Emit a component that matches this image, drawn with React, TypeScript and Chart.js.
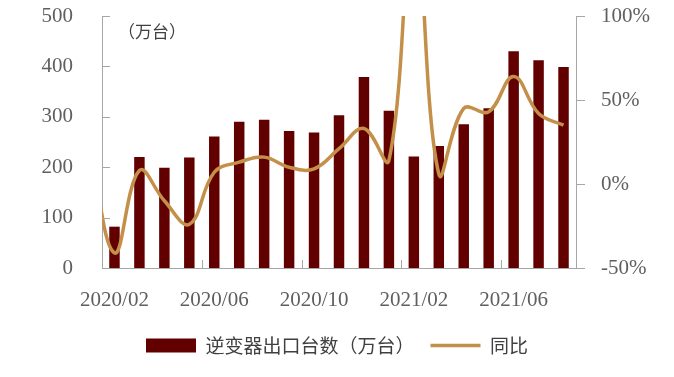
import React, { useEffect, useRef } from 'react';
import { Chart, registerables } from 'chart.js';

Chart.register(...registerables);

// ---- data ----
const months = [
  '2020/01', '2020/02', '2020/03', '2020/04', '2020/05', '2020/06', '2020/07',
  '2020/08', '2020/09', '2020/10', '2020/11', '2020/12', '2021/01', '2021/02',
  '2021/03', '2021/04', '2021/05', '2021/06', '2021/07', '2021/08',
];
const shownMonths = ['2020/02', '2020/06', '2020/10', '2021/02', '2021/06'];
const exportUnits = [
  null, 82, 220, 199, 219, 261, 290, 294, 272, 269, 303, 379, 312, 221,
  242, 285, 317, 430, 412, 399,
];
const yoyPct = [
  24, -41, 8, -10, -24, 7, 13, 16, 10, 9, 21, 33, 14, 168,
  6, 45, 43, 64, 42, 35,
];
const leftTicks = [0, 100, 200, 300, 400, 500];
const rightTicks = [-50, 0, 50, 100];
const barLabel = '逆变器出口台数（万台）';
const lineLabel = '同比';
const unitNote = '（万台）';

// ---- styles ----
const BAR = '#620000';
const LINE = '#C48F48';
const AXIS = '#A6A6A6';
const TICK_TEXT = '#5f5f5f';
const SERIF = "'Liberation Serif', 'Times New Roman', serif";
const CJK = "'Noto Sans CJK SC', sans-serif";

const decor = {
  id: 'decor',
  afterDraw(chart: any) {
    const { ctx, chartArea: a, scales } = chart;
    const x = scales.x;
    const yL = scales.yL;
    const yR = scales.yR;
    ctx.save();
    ctx.strokeStyle = AXIS;
    ctx.lineWidth = 1;
    ctx.beginPath();
    leftTicks.forEach((v) => {
      const y = Math.round(yL.getPixelForValue(v)) + 0.5;
      ctx.moveTo(a.left, y);
      ctx.lineTo(a.left + 8, y);
    });
    rightTicks.forEach((v) => {
      const y = Math.round(yR.getPixelForValue(v)) + 0.5;
      ctx.moveTo(a.right, y);
      ctx.lineTo(a.right + 9, y);
    });
    shownMonths.slice(1).forEach((m) => {
      const i = months.indexOf(m);
      const px = Math.round((x.getPixelForValue(i) + x.getPixelForValue(i - 1)) / 2) + 0.5;
      ctx.moveTo(px, a.bottom);
      ctx.lineTo(px, a.bottom - 8);
    });
    ctx.stroke();
    ctx.fillStyle = '#404040';
    ctx.font = `17px ${CJK}`;
    ctx.textBaseline = 'middle';
    ctx.textAlign = 'left';
    ctx.fillText(unitNote, a.left + 16, a.top + 16);
    ctx.restore();
  },
};

export default function App() {
  const ref = useRef<HTMLCanvasElement>(null);

  useEffect(() => {
    if (!ref.current) return;
    const chart = new Chart(ref.current, {
      type: 'bar',
      data: {
        labels: months,
        datasets: [
          {
            type: 'line',
            label: lineLabel,
            data: yoyPct,
            yAxisID: 'yR',
            borderColor: LINE,
            backgroundColor: LINE,
            borderWidth: 3.5,
            pointRadius: 0,
            pointStyle: 'line',
            tension: 0.4,
            order: 0,
          } as any,
          {
            type: 'bar',
            label: barLabel,
            data: exportUnits,
            yAxisID: 'yL',
            backgroundColor: BAR,
            borderWidth: 0,
            barPercentage: 0.42,
            categoryPercentage: 1,
            pointStyle: 'rect',
            order: 1,
          } as any,
        ],
      },
      options: {
        responsive: false,
        animation: false,
        devicePixelRatio: 1,
        layout: { padding: { left: 0, right: 0, top: 16, bottom: 12 } },
        plugins: {
          tooltip: { enabled: false },
          legend: {
            position: 'bottom',
            reverse: true,
            labels: {
              usePointStyle: true,
              pointStyleWidth: 50,
              boxHeight: 14,
              padding: 16,
              color: '#404040',
              font: { family: CJK, size: 19 },
            },
          },
        },
        scales: {
          x: {
            type: 'category',
            min: '2020/02',
            offset: true,
            grid: { display: false, drawTicks: false },
            border: { display: true, color: AXIS, width: 1 },
            ticks: {
              autoSkip: false,
              maxRotation: 0,
              padding: 20,
              color: TICK_TEXT,
              font: { family: SERIF, size: 21 },
              callback: function (this: any, v: any) {
                const lab = this.getLabelForValue(v);
                return shownMonths.includes(lab) ? lab : '';
              },
            },
            afterFit: (s: any) => {
              s.height = 52;
            },
          },
          yL: {
            type: 'linear',
            position: 'left',
            min: 0,
            max: 500,
            afterBuildTicks: (s: any) => {
              s.ticks = leftTicks.map((v) => ({ value: v }));
            },
            grid: { display: false, drawTicks: true, tickLength: 29 },
            border: { display: true, color: AXIS, width: 1 },
            ticks: {
              padding: 0,
              color: TICK_TEXT,
              font: { family: SERIF, size: 21 },
            },
            afterFit: (s: any) => {
              s.width = 102;
            },
          },
          yR: {
            type: 'linear',
            position: 'right',
            min: -50,
            max: 100,
            afterBuildTicks: (s: any) => {
              s.ticks = rightTicks.map((v) => ({ value: v }));
            },
            grid: { display: false, drawTicks: true, tickLength: 25 },
            border: { display: true, color: AXIS, width: 1 },
            ticks: {
              padding: 0,
              color: TICK_TEXT,
              font: { family: SERIF, size: 21 },
              callback: (v: any) => `${v}%`,
            },
            afterFit: (s: any) => {
              s.width = 98;
            },
          },
        },
      } as any,
      plugins: [decor],
    });
    return () => chart.destroy();
  }, []);

  return (
    <div style={{ position: 'absolute', left: 0, top: 0, width: 674, height: 377, background: '#fff' }}>
      <canvas ref={ref} width={674} height={377} style={{ display: 'block' }} />
    </div>
  );
}
